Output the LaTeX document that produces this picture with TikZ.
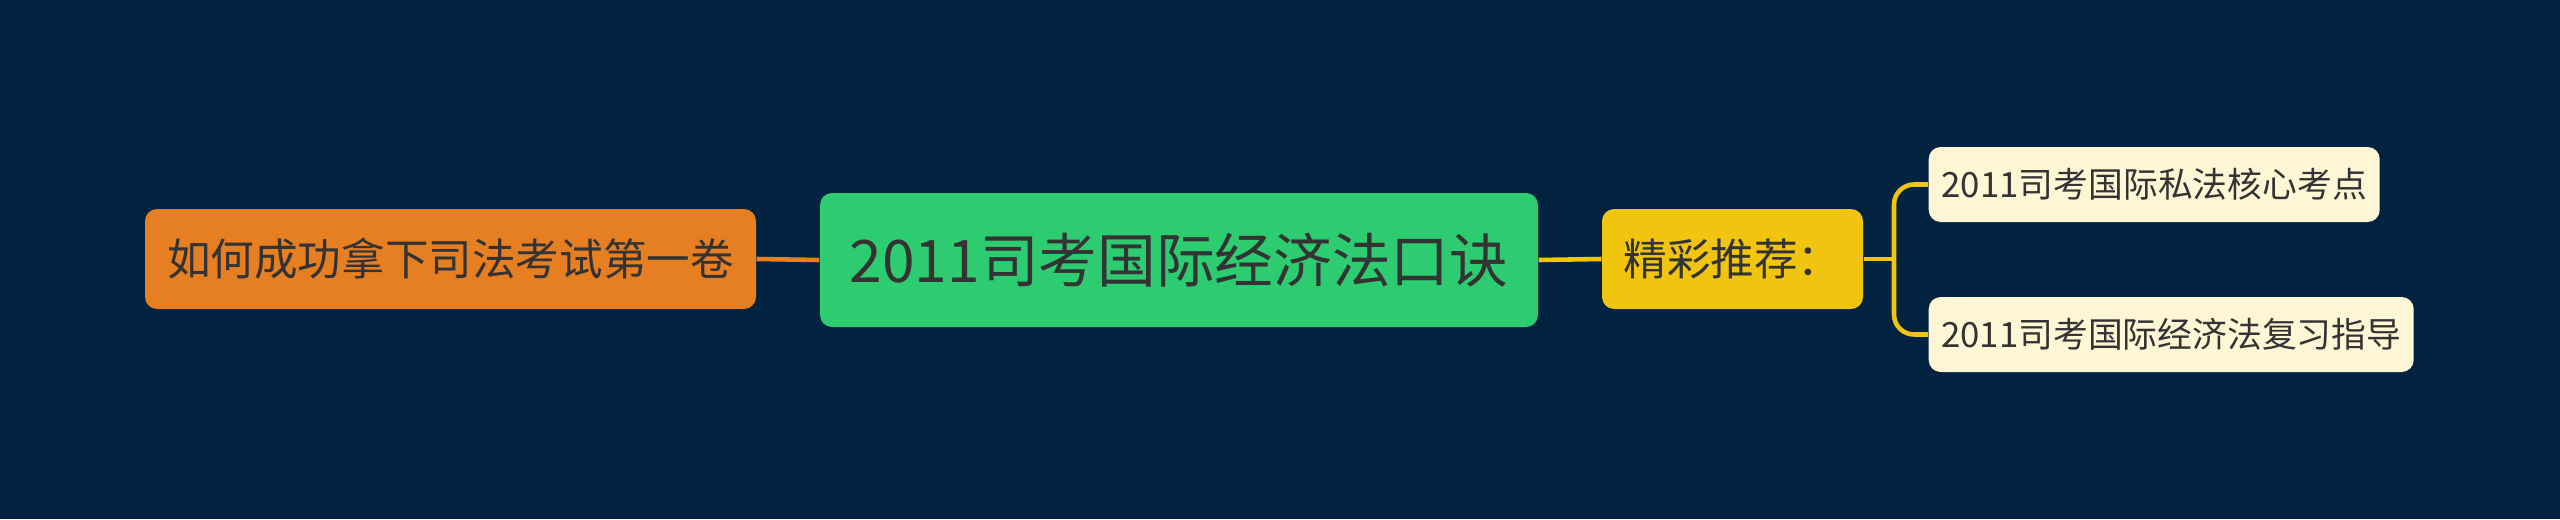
\documentclass[tikz,border=0pt]{standalone}
\usepackage{fontspec}
\setmainfont{Noto Sans CJK SC}
\definecolor{bgnavy}{HTML}{022340}
\definecolor{rootgreen}{HTML}{2ECC71}
\definecolor{leftorange}{HTML}{E67E22}
\definecolor{recyellow}{HTML}{F1C40F}
\definecolor{leafcream}{HTML}{FFF6D6}
\definecolor{inkgray}{HTML}{333333}
\tikzset{
  topic/.style={rounded corners=0.12cm, inner sep=0pt, align=center, text=inkgray},
  leaf/.style={topic, fill=leafcream, minimum height=0.75cm, font=\fontsize{9.9}{12}\selectfont},
  branch/.style={line width=1.3pt}
}

\begin{document}
\begin{tikzpicture}
\fill[bgnavy] (0,0) rectangle (25.6,5.19);
\useasboundingbox (0,0) rectangle (25.6,5.19);
\node[topic, fill=rootgreen, minimum width=7.18cm, minimum height=1.34cm, font=\fontsize{16.7}{20}\selectfont] (root) at (11.79,2.59) {2011司考国际经济法口诀};
\node[topic, fill=leftorange, minimum width=6.11cm, minimum height=1.0cm, font=\fontsize{12.4}{15}\selectfont] (howto) at (4.505,2.60) {如何成功拿下司法考试第一卷};
\node[topic, fill=recyellow, minimum width=2.61cm, minimum height=1.0cm, font=\fontsize{12.4}{15}\selectfont] (rec) at (17.325,2.60) {精彩推荐：};
\node[leaf, minimum width=4.51cm, anchor=west] (privlaw) at (19.28,3.345) {2011司考国际私法核心考点};
\node[leaf, minimum width=4.85cm, anchor=west] (review) at (19.28,1.845) {2011司考国际经济法复习指导};
\coordinate (fork) at (18.94,2.60);
\draw[branch, leftorange] (howto.east) -- (root.west);
\draw[branch, recyellow] (root.east) -- (rec.west);
\draw[branch, recyellow] (rec.east) -- (fork);
\draw[branch, recyellow, rounded corners=0.2cm] (fork) |- (privlaw.west);
\draw[branch, recyellow, rounded corners=0.2cm] (fork) |- (review.west);
\end{tikzpicture}
\end{document}
